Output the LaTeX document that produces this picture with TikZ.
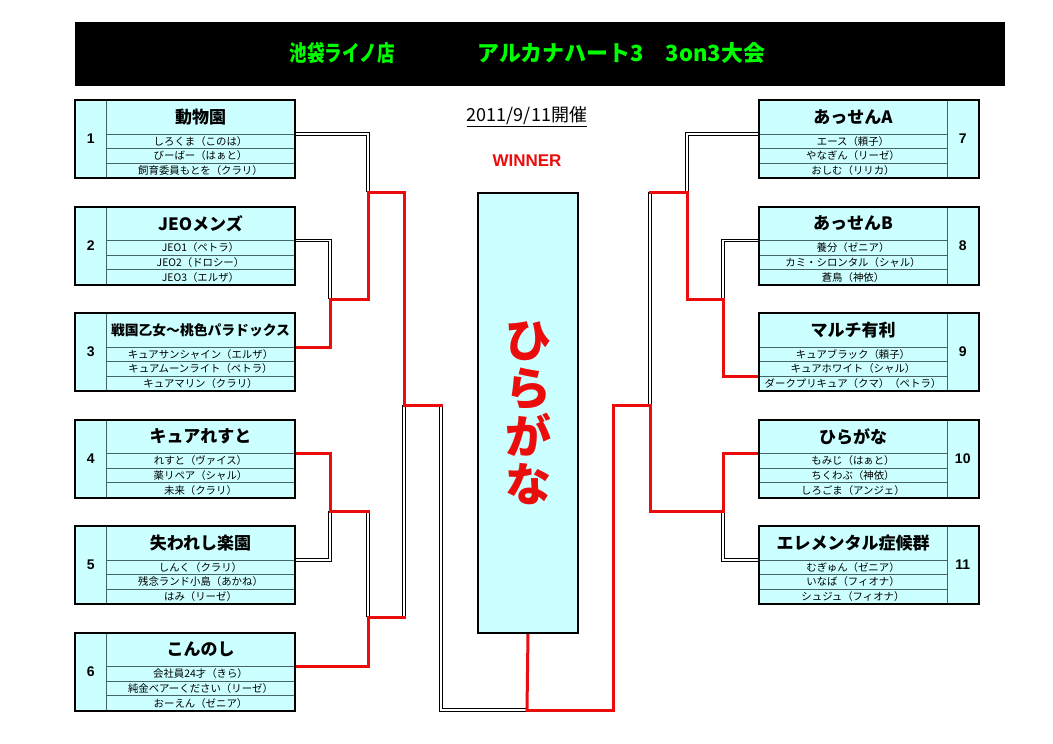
\documentclass[tikz,border=0pt]{standalone}
\usepackage{graphicx}
\usepackage{fontspec}
\setmainfont{Noto Sans CJK JP}
\newfontfamily\lat{Liberation Sans}
\definecolor{boxfill}{RGB}{204,255,255}
\definecolor{rowline}{RGB}{70,100,100}
\definecolor{winred}{RGB}{235,12,12}
\definecolor{titlegreen}{RGB}{0,255,0}
\pgfdeclarelayer{bg}
\pgfdeclarelayer{paper}
\pgfsetlayers{paper,bg,main}
\tikzset{
  cell/.style={draw=rowline, line width=0.8pt, fill=boxfill, inner sep=0pt, outer sep=0pt},
  numcell/.style={cell, minimum width=31.5pt, minimum height=78pt, font=\lat\bfseries\fontsize{14}{14}\selectfont},
  namecell/.style={cell, minimum width=188pt, minimum height=34pt, font=\bfseries\fontsize{17}{17}\selectfont},
  memcell/.style={cell, minimum width=188pt, minimum height=14.67pt, font=\fontsize{10.4}{10.4}\selectfont},
  outerbox/.style={draw=black, line width=2pt, inner sep=0pt, outer sep=0pt, minimum width=219.5pt, minimum height=78pt},
  dbl/.style={draw=black, line width=1pt, double=white, double distance=1.4pt},
  win/.style={draw=winred, line width=3pt, line cap=rect},
}
\newcommand\teamL[7]{%
  \node[numcell, anchor=north west] (#1num) at (75,#2) {#3};
  \node[namecell, anchor=north west] (#1n) at (106.5,#2) {#4};
  \node[memcell, anchor=north] (#1a) at (#1n.south) {#5};
  \node[memcell, anchor=north] (#1b) at (#1a.south) {#6};
  \node[memcell, anchor=north] (#1c) at (#1b.south) {#7};
  \node[outerbox, anchor=north west] (#1) at (75,#2) {};
}
\newcommand\teamR[7]{%
  \node[namecell, anchor=north west] (#1n) at (759,#2) {#4};
  \node[numcell, anchor=north west] (#1num) at (#1n.north east) {#3};
  \node[memcell, anchor=north] (#1a) at (#1n.south) {#5};
  \node[memcell, anchor=north] (#1b) at (#1a.south) {#6};
  \node[memcell, anchor=north] (#1c) at (#1b.south) {#7};
  \node[outerbox, anchor=north west] (#1) at (759,#2) {};
}
\begin{document}
\begin{tikzpicture}[x=1pt,y=-1pt]
\begin{pgfonlayer}{paper}
\fill[white] (0,0) rectangle (1053,744);
\end{pgfonlayer}
\useasboundingbox (0,0) rectangle (1053,744);

% title bar
\node[fill=black, minimum width=930pt, minimum height=64pt, inner sep=0pt, anchor=north west] (title) at (75,22) {};
\node[text=titlegreen, inner sep=0pt] (titleA) at (342,53) {\resizebox{105pt}{19pt}{\bfseries 池袋ライノ店}};
\node[text=titlegreen, inner sep=0pt] (titleB) at (621.5,53) {\resizebox{287pt}{19pt}{\bfseries アルカナハート3　3on3大会}};

% date and winner label
\node[font=\fontsize{18}{18}\selectfont] (date) at (527,117) {\underline{2011/9/11開催}};
\node[text=winred, font=\lat\bfseries\fontsize{17}{17}\selectfont] (winlabel) at (527,161) {WINNER};

% winner box
\node[draw=black, line width=2pt, fill=boxfill, minimum width=100.6pt, minimum height=439.4pt, inner sep=0pt, anchor=north west] (W) at (476.7,192.3) {};
\node[text=winred, align=center, font=\bfseries\fontsize{46}{48}\selectfont] (Wt) at (W.center) {ひ\\ら\\が\\な};

% left teams
\teamL{t1}{100}{1}{動物園}{しろくま（このは）}{びーばー（はぁと）}{飼育委員もとを（クラリ）}
\teamL{t2}{206.5}{2}{JEOメンズ}{JEO1（ペトラ）}{JEO2（ドロシー）}{JEO3（エルザ）}
\teamL{t3}{313}{3}{\fontsize{13.8}{14}\selectfont 戦国乙女～桃色パラドックス}{キュアサンシャイン（エルザ）}{キュアムーンライト（ペトラ）}{キュアマリン（クラリ）}
\teamL{t4}{419.5}{4}{キュアれすと}{れすと（ヴァイス）}{薬リペア（シャル）}{未来（クラリ）}
\teamL{t5}{526}{5}{失われし楽園}{しんく（クラリ）}{残念ランド小島（あかね）}{はみ（リーゼ）}
\teamL{t6}{632.5}{6}{こんのし}{会社員24才（きら）}{純金ベアーください（リーゼ）}{おーえん（ゼニア）}

% right teams
\teamR{t7}{100}{7}{あっせんA}{エース（頼子）}{やなぎん（リーゼ）}{おしむ（リリカ）}
\teamR{t8}{206.5}{8}{あっせんB}{養分（ゼニア）}{カミ・シロンタル（シャル）}{蒼鳥（神依）}
\teamR{t9}{313}{9}{マルチ有利}{キュアブラック（頼子）}{キュアホワイト（シャル）}{ダークプリキュア（クマ）（ペトラ）}
\teamR{t10}{419.5}{10}{ひらがな}{もみじ（はぁと）}{ちくわぶ（神依）}{しろごま（アンジェ）}
\teamR{t11}{526}{11}{エレメンタル症候群}{むぎゅん（ゼニア）}{いなば（フィオナ）}{シュジュ（フィオナ）}

% junctions
\coordinate (j13) at (368,192);
\coordinate (j23) at (330,299);
\coordinate (s1) at (404,405);
\coordinate (s1r) at (441,405);
\coordinate (j45) at (330,511);
\coordinate (k45) at (368,511);
\coordinate (j46) at (368,617);
\coordinate (k46) at (404,617);
\coordinate (fb) at (527,710);
\coordinate (s2) at (613,405);
\coordinate (s2r) at (650,405);
\coordinate (k79) at (650,192);
\coordinate (j79) at (687,192);
\coordinate (j89) at (723,299);
\coordinate (j1011) at (723,511);

\begin{pgfonlayer}{bg}
% losers (double lines)
\draw[dbl] (t1n.south east) -| (j13);
\draw[dbl] (t2n.south east) -| (j23);
\draw[dbl] (t5n.south east) -| (j45);
\draw[dbl] (k45) -- (j46);
\draw[dbl] (k46) -- (s1);
\draw[dbl] (s1r) |- (fb);
\draw[dbl] (t7n.south west) -| (j79);
\draw[dbl] (t8n.south west) -| (j89);
\draw[dbl] (t11n.south west) -| (j1011);
\draw[dbl] (s2r) -- (k79);
% winners (red)
\draw[win] (t3n.south east) -| (j23);
\draw[win] (j23) -| (j13);
\draw[win] (j13) -| (s1);
\draw[win] (t4n.south east) -| (j45);
\draw[win] (j45) -- (k45);
\draw[win] (t6n.south east) -| (j46);
\draw[win] (j46) -- (k46);
\draw[win] (s1) -- (s1r);
\draw[win] (t9b.south west) -| (j89);
\draw[win] (j89) -| (j79);
\draw[win] (j79) -- (k79);
\draw[win] (t10n.south west) -| (j1011);
\draw[win] (j1011) -| (s2r);
\draw[win] (s2r) -- (s2);
\draw[win] (s2) |- (fb);
\draw[win] (fb) -- (W.south);
\end{pgfonlayer}
\end{tikzpicture}
\end{document}
